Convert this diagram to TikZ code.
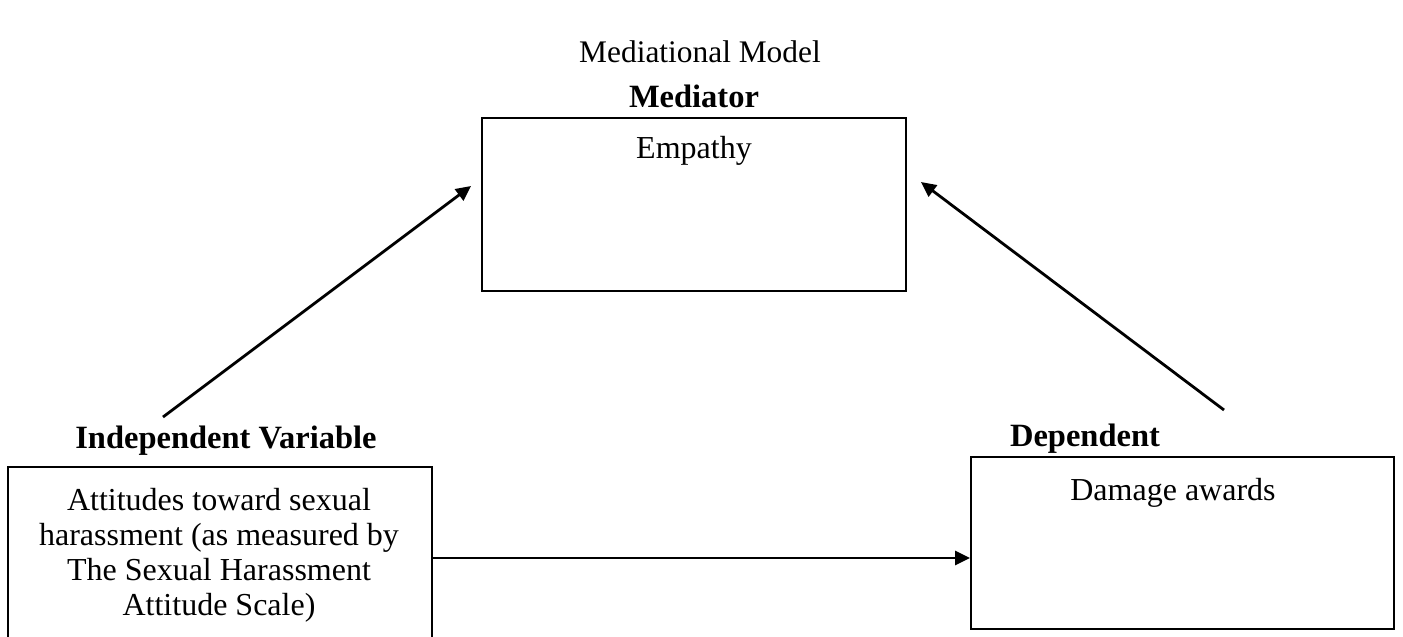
\documentclass[tikz,border=0pt]{standalone}
\usepackage{fontspec}
\setmainfont{Liberation Serif}
\usetikzlibrary{arrows.meta}
\begin{document}
\begin{tikzpicture}[x=1pt,y=-1pt,
  every node/.style={font=\fontsize{32}{35}\selectfont},
  box/.style={draw, line width=2pt, inner sep=0pt},
  lbl/.style={inner sep=0pt, anchor=base},
  hdr/.style={inner sep=0pt, anchor=base, font=\fontsize{32.5}{35}\selectfont\bfseries},
  arr/.style={-{Triangle[length=15pt,width=14pt]}, line width=2.8pt}]
\useasboundingbox (0,0) rectangle (1403,637);
\node[lbl, font=\fontsize{31.4}{35}\selectfont] (title) at (700,62) {Mediational Model};
% mediator
\node[box, minimum width=424pt, minimum height=173pt] (med) at (694,204.5) {};
\node[hdr] (medh) at (694,107) {Mediator};
\node[lbl] (medt) at (694,158) {Empathy};
% independent
\node[box, minimum width=424pt, minimum height=200pt] (iv) at (220,567) {};
\node[hdr] (ivh) at (226,448) {Independent Variable};
\node[inner sep=0pt, align=center, anchor=north] (ivt) at (219,488) {Attitudes toward sexual\\harassment (as measured by\\The Sexual Harassment\\Attitude Scale)};
% dependent
\node[box, minimum width=423pt, minimum height=172pt] (dv) at (1182.5,543) {};
\node[hdr] (dvh) at (1085,446) {Dependent};
\node[lbl] (dvt) at (1173,500) {Damage awards};
% connectors
\coordinate (a1s) at (163,417);
\coordinate (a1e) at (471,186);
\coordinate (a2s) at (1224,410);
\coordinate (a2e) at (921,182);
\draw[arr] (a1s) -- (a1e);
\draw[arr] (a2s) -- (a2e);
\draw[arr] (iv.east |- 0,558) -- (dv.west |- 0,558);
\end{tikzpicture}
\end{document}
